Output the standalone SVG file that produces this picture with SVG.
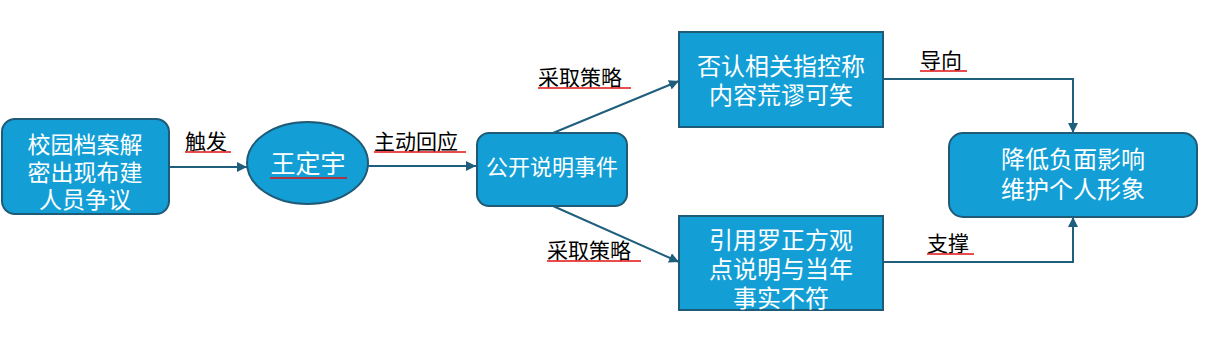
<svg xmlns="http://www.w3.org/2000/svg" width="1206" height="337" viewBox="0 0 1206 337">
<defs>
<marker id="ah" viewBox="0 0 10 10" refX="10" refY="5" markerWidth="10" markerHeight="10" markerUnits="userSpaceOnUse" orient="auto">
<path d="M0,0 L10,5 L0,10 Z" fill="#1f5f7d"/>
</marker>
<style>
.box{fill:#139fd6;stroke:#1f5a76;stroke-width:2}
.nt{font-family:"Noto Sans CJK SC",sans-serif;font-size:23px;fill:#fff;text-anchor:middle;dominant-baseline:central}
.lb{font-family:"Noto Sans CJK SC",sans-serif;font-size:21px;fill:#000;dominant-baseline:central}
.ed{fill:none;stroke:#1f5f7d;stroke-width:2}
.sq{stroke:#e01010;stroke-width:1.5}
</style>
</defs>
<g id="n1">
<rect class="box" x="2" y="119" width="167" height="95" rx="13"/>
<text class="nt" x="85" y="143">校园档案解</text>
<text class="nt" x="85" y="171">密出现布建</text>
<text class="nt" x="85" y="198">人员争议</text>
</g>
<g id="n2">
<ellipse class="box" cx="307.5" cy="163" rx="60.5" ry="41"/>
<text class="nt" x="308" y="162" style="font-size:25px">王定宇</text>
<line class="sq" x1="270" y1="178" x2="347" y2="178"/>
</g>
<g id="n3">
<rect class="box" x="477" y="133" width="150" height="73" rx="12"/>
<text class="nt" x="552" y="165" style="font-size:22px">公开说明事件</text>
</g>
<g id="n4">
<rect class="box" x="679" y="32" width="204" height="95"/>
<text class="nt" x="781" y="64" style="font-size:24px">否认相关指控称</text>
<text class="nt" x="781" y="93" style="font-size:24px">内容荒谬可笑</text>
</g>
<g id="n5">
<rect class="box" x="679" y="216" width="204" height="94"/>
<text class="nt" x="781" y="238" style="font-size:24px">引用罗正方观</text>
<text class="nt" x="781" y="267" style="font-size:24px">点说明与当年</text>
<text class="nt" x="781" y="296" style="font-size:24px">事实不符</text>
</g>
<g id="n6">
<rect class="box" x="949" y="133" width="248" height="84" rx="14"/>
<text class="nt" x="1073" y="157" style="font-size:24px">降低负面影响</text>
<text class="nt" x="1073" y="187" style="font-size:24px">维护个人形象</text>
</g>
<g id="edges">
<line class="ed" x1="169" y1="167" x2="247" y2="167" marker-end="url(#ah)"/>
<line class="ed" x1="368" y1="166" x2="476" y2="166" marker-end="url(#ah)"/>
<line class="ed" x1="553" y1="133" x2="679" y2="81" marker-end="url(#ah)"/>
<line class="ed" x1="553" y1="206" x2="679" y2="262" marker-end="url(#ah)"/>
<polyline class="ed" points="883,79 1073,79 1073,133" marker-end="url(#ah)"/>
<polyline class="ed" points="883,262 1073,262 1073,217" marker-end="url(#ah)"/>
<text class="lb" x="185" y="140">触发</text>
<line class="sq" x1="185" y1="152" x2="231" y2="152"/>
<text class="lb" x="374" y="140">主动回应</text>
<line class="sq" x1="374" y1="152" x2="466" y2="152"/>
<text class="lb" x="538" y="76">采取策略</text>
<line class="sq" x1="538" y1="88" x2="631" y2="88"/>
<text class="lb" x="547" y="249">采取策略</text>
<line class="sq" x1="547" y1="261" x2="641" y2="261"/>
<text class="lb" x="920" y="59">导向</text>
<line class="sq" x1="920" y1="71" x2="967" y2="71"/>
<text class="lb" x="927" y="242">支撑</text>
<line class="sq" x1="927" y1="254" x2="974" y2="254"/>
</g>
</svg>
